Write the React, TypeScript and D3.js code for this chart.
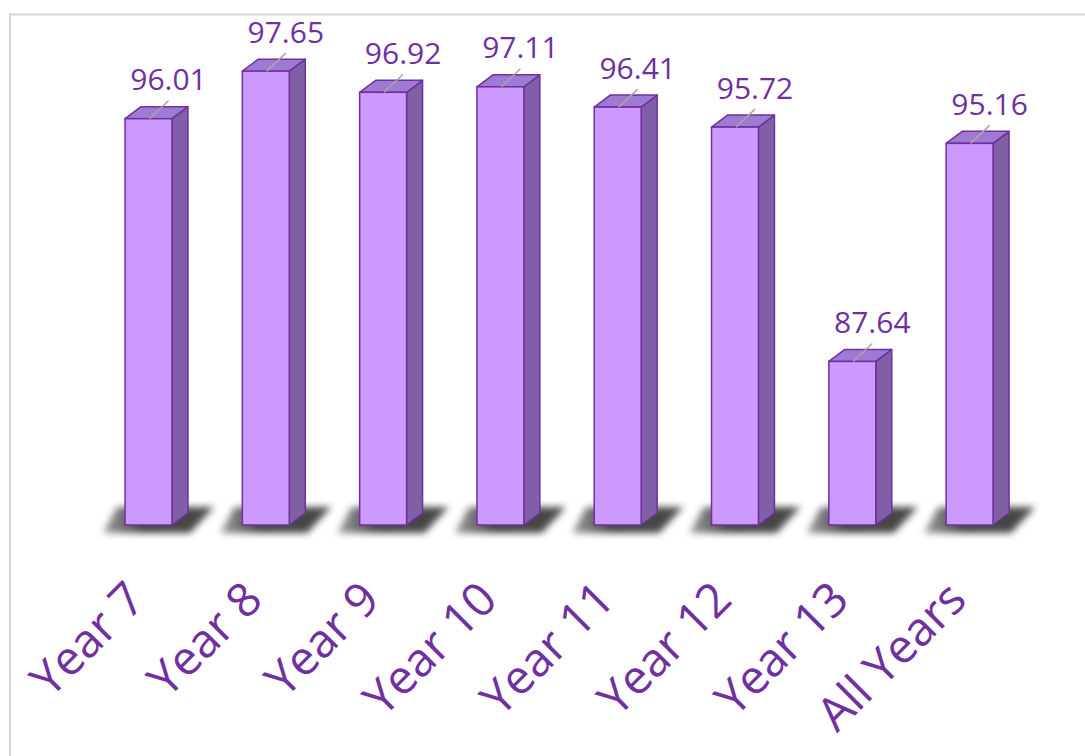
import React from 'react'
import * as d3 from 'd3'

const categories = ['Year 7', 'Year 8', 'Year 9', 'Year 10', 'Year 11', 'Year 12', 'Year 13', 'All Years']
const values = [96.01, 97.65, 96.92, 97.11, 96.41, 95.72, 87.64, 95.16]
const yDomain = [82, 100]

const width = 1085
const height = 756
const baseY = 525
const depthX = 16
const depthY = 12
const purple = '#7030a0'

export default function App() {
  const x = d3.scaleBand<string>()
    .domain(categories)
    .range([89.85, 1028.25])
    .paddingInner(0.6)
    .paddingOuter(0.3)

  const y = d3.scaleLinear().domain(yDomain).range([baseY, 3])

  const bw = x.bandwidth()
  const line = d3.line()

  return (
    <svg width={width} height={height} style={{ position: 'absolute', left: 0, top: 0, background: '#fff' }}
      fontFamily="'Open Sans', sans-serif">
      <defs>
        <filter id="shadow-blur" x="-30%" y="-60%" width="160%" height="220%">
          <feGaussianBlur stdDeviation="3.5" />
        </filter>
        <linearGradient id="shadow-grad" x1="0" x2="1" y1="0" y2="0">
          <stop offset="0%" stopColor="#9a9a9a" />
          <stop offset="35%" stopColor="#3a3a3a" />
          <stop offset="100%" stopColor="#404040" />
        </linearGradient>
      </defs>

      {/* frame */}
      <path d={`M10,${height} V14.5 H${width}`} fill="none" stroke="#d6d6d6" strokeWidth={2} />

      {/* floor shadows */}
      {categories.map((c, i) => {
        const x0 = x(c)!
        const x1 = x0 + bw
        const pts: [number, number][] = [
          [x0 - 22, baseY + 8], [x1 + 18, baseY + 8], [x1 + 42, baseY - 18], [x0 - 8, baseY - 18]
        ]
        return <path key={'s' + i} d={line(pts) + 'Z'} fill="url(#shadow-grad)" filter="url(#shadow-blur)" opacity={0.95} />
      })}

      {/* bars */}
      {values.map((v, i) => {
        const x0 = x(categories[i])!
        const x1 = x0 + bw
        const top = y(v)
        const side: [number, number][] = [[x1, baseY], [x1, top], [x1 + depthX, top - depthY], [x1 + depthX, baseY - depthY]]
        const cap: [number, number][] = [[x0, top], [x1, top], [x1 + depthX, top - depthY], [x0 + depthX, top - depthY]]
        const cx = x0 + bw / 2
        const lx = cx + 20
        const ly = top - 18
        return (
          <g key={'b' + i}>
            <path d={line(side) + 'Z'} fill="#7f5fa5" stroke={purple} strokeWidth={1.5} strokeLinejoin="round" />
            <path d={line(cap) + 'Z'} fill="#9f7ad2" stroke={purple} strokeWidth={1.5} strokeLinejoin="round" />
            <rect x={x0} y={top} width={bw} height={baseY - top} fill="#cc99ff" stroke={purple} strokeWidth={1.5} />
            <line x1={cx + 1} y1={top} x2={lx} y2={ly} stroke="#a6a6a6" strokeWidth={1.5} />
            <text x={lx} y={top - 28.5} textAnchor="middle" fontSize={30} fill={purple}>{v.toFixed(2)}</text>
          </g>
        )
      })}

      {/* category labels */}
      {categories.map((c, i) => {
        const cx = x(c)! + bw / 2
        return (
          <text key={'l' + i} transform={`translate(${cx - 1},602) rotate(-45)`} textAnchor="end"
            fontSize={47} fill={purple}>{c}</text>
        )
      })}
    </svg>
  )
}
